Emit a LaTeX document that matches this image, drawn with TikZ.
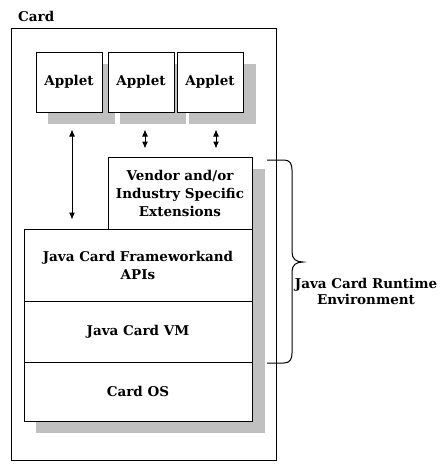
\documentclass[tikz,border=0pt]{standalone}
\usepackage{fontspec}
\setmainfont{DejaVu Serif}
\usetikzlibrary{arrows.meta}
\definecolor{shade}{RGB}{192,192,192}
\begin{document}
\begin{tikzpicture}[x=1pt,y=-1pt,
  box/.style={draw=black,fill=white,line width=1pt,inner sep=0pt,align=center,font=\fontsize{13.5}{18}\selectfont\bfseries},
  shadowbox/.style={fill=shade},
  arr/.style={line width=1pt,{Latex[length=7pt,width=6pt]}-{Latex[length=7pt,width=6pt]}},
  lbl/.style={font=\fontsize{13.5}{16}\selectfont\bfseries,align=center,inner sep=0pt}]
\useasboundingbox (0,0) rectangle (445,471);
% outer card
\node[draw,line width=1pt,minimum width=265pt,minimum height=432pt,inner sep=0pt] (card) at (143.5,244) {};
\node[lbl,anchor=west] (cardlbl) at (18,16) {Card};
% shadows
\fill[shadowbox] (48,64) rectangle (115,124);
\fill[shadowbox] (120,64) rectangle (186,124);
\fill[shadowbox] (189,64) rectangle (256,124);
\fill[shadowbox] (36,421) rectangle (265,433);
\fill[shadowbox] (252,169) rectangle (265,433);
% applets
\node[box,minimum width=66pt,minimum height=60pt] (a1) at (69,82) {Applet};
\node[box,minimum width=66pt,minimum height=60pt] (a2) at (141,82) {Applet};
\node[box,minimum width=66pt,minimum height=60pt] (a3) at (210,82) {Applet};
% vendor
\node[box,minimum width=144pt,minimum height=72pt] (ven) at (180,193) {Vendor and/or\\Industry Specific\\Extensions};
% stack
\node[box,minimum width=228pt,minimum height=72pt] (fw) at (138,265) {Java Card Frameworkand\\APIs};
\node[box,minimum width=228pt,minimum height=61pt] (vm) at (138,331.5) {Java Card VM};
\node[box,minimum width=228pt,minimum height=59pt] (os) at (138,391.5) {Card OS};
% arrows
\draw[arr,shorten <=17pt,shorten >=9pt] ([xshift=3pt]a1.south) -- ([xshift=3pt]a1.south |- fw.north);
\draw[arr,shorten <=17pt,shorten >=8pt] ([xshift=4pt]a2.south) -- ([xshift=4pt]a2.south |- ven.north);
\draw[arr,shorten <=17pt,shorten >=8pt] ([xshift=6pt]a3.south) -- ([xshift=6pt]a3.south |- ven.north);
% brace
\coordinate (btop) at (267,160);
\coordinate (bbot) at (267,363);
\node[lbl] (jcre) at (366,291) {Java Card Runtime\\Environment};
\draw[line width=1pt] (btop) -- (284,160) .. controls (290,160) and (292,164) .. (292,170)
  -- (292,252) .. controls (292,259) and (296,262) .. (303,262)
  .. controls (296,262) and (292,265) .. (292,272)
  -- (292,353) .. controls (292,359) and (290,363) .. (284,363) -- (bbot);
\end{tikzpicture}
\end{document}
